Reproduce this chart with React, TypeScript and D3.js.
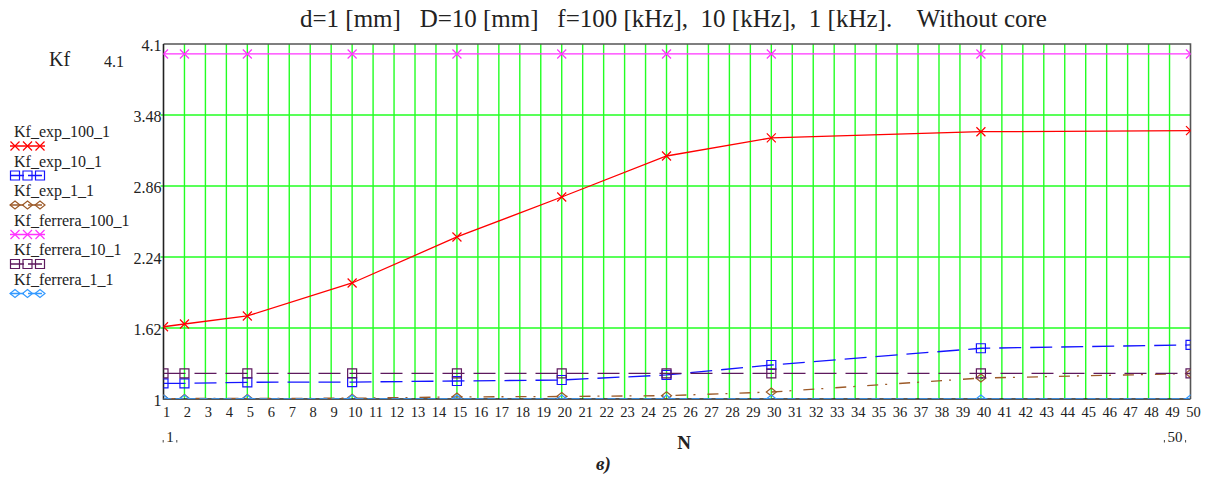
import { useEffect, useRef } from "react";
import * as d3 from "d3";

// sample points (N) where the curves carry markers
const nValues = [1, 2, 5, 10, 15, 20, 25, 30, 40, 50];

const kfExp100 = [1.631, 1.655, 1.725, 2.013, 2.415, 2.764, 3.122, 3.28, 3.334, 3.343];
const kfExp10 = [1.137, 1.137, 1.146, 1.148, 1.157, 1.166, 1.21, 1.297, 1.443, 1.472];
const kfExp1 = [1.003, 1.004, 1.005, 1.007, 1.018, 1.022, 1.029, 1.061, 1.183, 1.222];
const kfFerrera100 = [4.013, 4.013, 4.013, 4.013, 4.013, 4.013, 4.013, 4.013, 4.013, 4.013];
const kfFerrera10 = [1.223, 1.223, 1.223, 1.223, 1.223, 1.223, 1.223, 1.223, 1.223, 1.223];
const kfFerrera1 = [1.0, 1.0, 1.0, 1.0, 1.0, 1.0, 1.0, 1.0, 1.0, 1.0];

const yTicks = [1, 1.62, 2.24, 2.86, 3.48, 4.1];
const yTickLabels = ["1", "1.62", "2.24", "2.86", "3.48", "4.1"];
const xTicks = d3.range(1, 51);

const seriesNames = [
  "Kf_exp_100_1",
  "Kf_exp_10_1",
  "Kf_exp_1_1",
  "Kf_ferrera_100_1",
  "Kf_ferrera_10_1",
  "Kf_ferrera_1_1"
];

const title = "d=1 [mm]   D=10 [mm]   f=100 [kHz],  10 [kHz],  1 [kHz].    Without core";

export default function App() {
  const svgRef = useRef(null);

  useEffect(() => {
    const width = 1216;
    const height = 479;
    const plot = { left: 163.5, right: 1190.5, top: 44, bottom: 399 };
    const font = "Liberation Serif, Tinos, Times New Roman, DejaVu Serif, serif";

    const svg = d3.select(svgRef.current);
    svg.attr("width", width).attr("height", height).attr("viewBox", `0 0 ${width} ${height}`);
    svg.selectAll("*").remove();

    const x = d3.scaleLinear().domain([1, 50]).range([plot.left, plot.right]);
    const y = d3.scaleLinear().domain([1, 4.1]).range([plot.bottom, plot.top]);

    const series = [
      { name: seriesNames[0], values: kfExp100, color: "#ff0000", dash: null, marker: "cross" },
      { name: seriesNames[1], values: kfExp10, color: "#1414ff", dash: "22,9", marker: "square" },
      { name: seriesNames[2], values: kfExp1, color: "#9c5a28", dash: "11,7,2,12", marker: "diamond" },
      { name: seriesNames[3], values: kfFerrera100, color: "#ff33ff", dash: null, marker: "cross" },
      { name: seriesNames[4], values: kfFerrera10, color: "#5e1a5e", dash: "22,9", marker: "square" },
      { name: seriesNames[5], values: kfFerrera1, color: "#3399ff", dash: "8,4", marker: "diamond" }
    ];

    const markerPath = (kind) => {
      if (kind === "cross") return "M-4.5,-4.5L4.5,4.5M-4.5,4.5L4.5,-4.5";
      if (kind === "square") return "M-4.5,-4.5H4.5V4.5H-4.5Z";
      return "M0,-4L5,0L0,4L-5,0Z";
    };

    svg
      .append("defs")
      .append("clipPath")
      .attr("id", "plot-clip")
      .append("rect")
      .attr("x", plot.left)
      .attr("y", plot.top)
      .attr("width", plot.right - plot.left)
      .attr("height", plot.bottom - plot.top);

    // grid
    const grid = svg.append("g").attr("stroke", "#22ff22").attr("stroke-width", 1.4);
    grid
      .selectAll("line.v")
      .data(xTicks.filter((d) => d > 1 && d < 50))
      .join("line")
      .attr("x1", (d) => x(d))
      .attr("x2", (d) => x(d))
      .attr("y1", plot.top)
      .attr("y2", plot.bottom);
    grid
      .selectAll("line.h")
      .data(yTicks.filter((d) => d > 1 && d < 4.1))
      .join("line")
      .attr("x1", plot.left - 3)
      .attr("x2", plot.right)
      .attr("y1", (d) => y(d))
      .attr("y2", (d) => y(d));

    // frame
    svg
      .append("path")
      .attr("d", `M${plot.left},${plot.top}H${plot.right}V${plot.bottom}`)
      .attr("fill", "none")
      .attr("stroke", "#555")
      .attr("stroke-width", 1.6);
    svg
      .append("path")
      .attr("d", `M${plot.left},${plot.top}V${plot.bottom}H${plot.right}`)
      .attr("fill", "none")
      .attr("stroke", "#222")
      .attr("stroke-width", 1.6);

    // curves
    const line = d3
      .line()
      .x((d) => x(d[0]))
      .y((d) => y(d[1]));

    const curves = svg.append("g").attr("clip-path", "url(#plot-clip)");
    series.forEach((s) => {
      const pts = nValues.map((n, i) => [n, s.values[i]]);
      curves
        .append("path")
        .datum(pts)
        .attr("d", line)
        .attr("fill", "none")
        .attr("stroke", s.color)
        .attr("stroke-width", 1.3)
        .attr("stroke-dasharray", s.dash);
      curves
        .append("g")
        .selectAll("path")
        .data(pts)
        .join("path")
        .attr("transform", (d) => `translate(${x(d[0])},${y(d[1])})`)
        .attr("d", markerPath(s.marker))
        .attr("fill", "none")
        .attr("stroke", s.color)
        .attr("stroke-width", 1.2);
    });

    // y tick labels
    svg
      .append("g")
      .selectAll("text")
      .data(yTicks)
      .join("text")
      .attr("x", plot.left - 2)
      .attr("y", (d) => y(d) + 6.5)
      .attr("text-anchor", "end")
      .attr("font-family", font)
      .attr("font-size", 16)
      .attr("fill", "#222")
      .text((d, i) => yTickLabels[i]);

    // x tick labels
    svg
      .append("g")
      .selectAll("text")
      .data(xTicks)
      .join("text")
      .attr("x", (d) => x(d) + 3)
      .attr("y", 417)
      .attr("text-anchor", "middle")
      .attr("font-family", font)
      .attr("font-size", 14.5)
      .attr("fill", "#222")
      .text((d) => d);

    // range limit labels under the axis
    [
      { label: "1", xp: 170 },
      { label: "50", xp: 1175 }
    ].forEach((r) => {
      const g = svg.append("g").attr("transform", `translate(${r.xp},442)`);
      g.append("text")
        .attr("text-anchor", "middle")
        .attr("font-family", font)
        .attr("font-size", 15)
        .attr("fill", "#222")
        .text(r.label);
      const half = r.label.length * 3.8 + 3;
      g.append("path")
        .attr("d", `M${-half},-2v2.5M${half},-2v2.5`)
        .attr("stroke", "#444")
        .attr("stroke-width", 1);
    });

    svg
      .append("text")
      .attr("x", 684)
      .attr("y", 449)
      .attr("text-anchor", "middle")
      .attr("font-family", font)
      .attr("font-size", 19)
      .attr("font-weight", "bold")
      .attr("fill", "#222")
      .text("N");

    svg
      .append("text")
      .attr("x", 49)
      .attr("y", 66)
      .attr("font-family", font)
      .attr("font-size", 20)
      .attr("fill", "#222")
      .text("Kf");
    svg
      .append("text")
      .attr("x", 104)
      .attr("y", 67)
      .attr("font-family", font)
      .attr("font-size", 16)
      .attr("fill", "#222")
      .text("4.1");

    svg
      .append("text")
      .attr("x", 300)
      .attr("y", 27)
      .attr("font-family", font)
      .attr("font-size", 25)
      .attr("fill", "#222")
      .style("white-space", "pre")
      .text(title);

    svg
      .append("text")
      .attr("x", 596)
      .attr("y", 470)
      .attr("font-family", font)
      .attr("font-size", 19)
      .attr("font-style", "italic")
      .attr("font-weight", "bold")
      .attr("fill", "#222")
      .text("в)");

    // legend
    const legend = svg.append("g");
    series.forEach((s, i) => {
      const base = 137 + i * 29.5;
      legend
        .append("text")
        .attr("x", 14)
        .attr("y", base)
        .attr("font-family", font)
        .attr("font-size", 16)
        .attr("fill", "#222")
        .text(s.name);
      const sy = base + 9;
      legend
        .append("line")
        .attr("x1", 10)
        .attr("x2", 45)
        .attr("y1", sy)
        .attr("y2", sy)
        .attr("stroke", s.color)
        .attr("stroke-width", 1.3)
        .attr("stroke-dasharray", s.dash ? "14,4" : null);
      legend
        .append("g")
        .selectAll("path")
        .data([15, 27.5, 40])
        .join("path")
        .attr("transform", (d) => `translate(${d},${sy})`)
        .attr("d", markerPath(s.marker))
        .attr("fill", "none")
        .attr("stroke", s.color)
        .attr("stroke-width", 1.2);
    });
  }, []);

  return (
    <svg
      ref={svgRef}
      style={{ position: "absolute", left: 0, top: 0, display: "block", background: "#fff" }}
    />
  );
}
